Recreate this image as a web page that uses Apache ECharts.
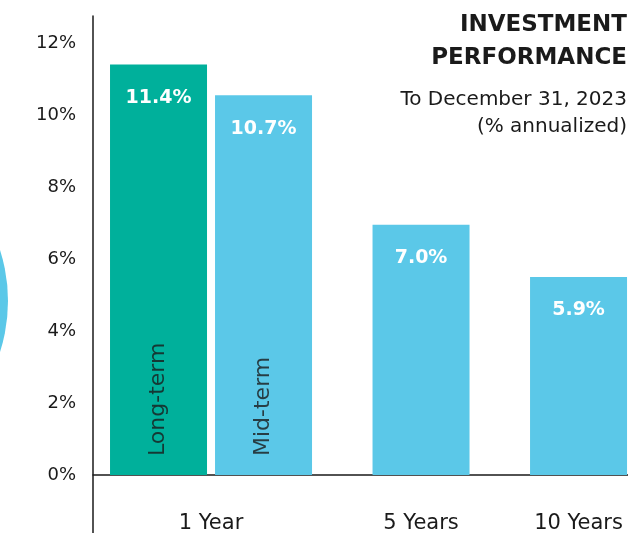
<!DOCTYPE html>
<html>
<head>
<meta charset="utf-8">
<script src="https://cdn.jsdelivr.net/npm/echarts@6/dist/echarts.min.js"></script>
<style>
  html, body { margin: 0; padding: 0; background: #fff; }
  #chart { width: 628px; height: 533px; }
</style>
</head>
<body>
<div id="chart"></div>
<script>
// periods shown on the x axis and their slot on the axis
var periods = ['1 Year', '5 Years', '10 Years'];
var periodSlots = [1, 5, 8];

// bars: slot, height, printed value, term name
var barSlots = [0, 2, 5, 8];
var barValues = [11.4, 10.55, 6.95, 5.5];
var barLabels = ['11.4%', '10.7%', '7.0%', '5.9%'];
var termNames = ['Long-term', 'Mid-term'];

var GREEN = '#00B09B';
var BLUE = '#5BC8E8';
var INK = '#1a1a1a';
var FONT = 'DejaVu Sans';

var chart = echarts.init(document.getElementById('chart'), null, {renderer: 'canvas'});

var barData = barSlots.map(function (s, i) {
  return {
    value: [s, barValues[i]],
    itemStyle: {color: i === 0 ? GREEN : BLUE}
  };
});

var termData = termNames.map(function (n, i) {
  return [barSlots[i], 0];
});

var option = {
  animation: false,
  graphic: [{
    type: 'circle',
    shape: {cx: -158, cy: 301, r: 166},
    style: {fill: BLUE},
    silent: true
  }, {
    // title
    type: 'text',
    right: 1,
    top: 9,
    style: {
      text: 'INVESTMENT\nPERFORMANCE',
      textAlign: 'right',
      fill: INK,
      font: 'bold 23px "DejaVu Sans"',
      lineHeight: 33
    },
    silent: true
  }, {
    type: 'text',
    right: 1,
    top: 86,
    style: {
      text: 'To December 31, 2023\n(% annualized)',
      textAlign: 'right',
      fill: INK,
      font: '20px "DejaVu Sans"',
      lineHeight: 27
    },
    silent: true
  }],
  // the y axis runs a little past 0 and 12%, as in the original
  grid: {left: 93, right: 0, top: 16, bottom: -14, containLabel: false, outerBoundsMode: 'none'},
  xAxis: {
    type: 'value',
    min: -1.248,
    max: 8.942,
    offset: -72,
    splitLine: {show: false},
    axisTick: {show: false},
    axisLine: {show: true, onZero: false, lineStyle: {color: INK, width: 1.5}},
    axisLabel: {
      customValues: periodSlots,
      margin: 38,
      fontFamily: FONT,
      fontSize: 21,
      color: INK,
      formatter: function (v) {
        var i = periodSlots.indexOf(v);
        return i >= 0 ? periods[i] : '';
      }
    }
  },
  yAxis: {
    type: 'value',
    min: -2,
    max: 12.75,
    interval: 2,
    splitLine: {show: false},
    axisTick: {show: false},
    axisLine: {show: true, onZero: false, lineStyle: {color: INK, width: 1.5}},
    axisLabel: {
      margin: 17,
      fontFamily: FONT,
      fontSize: 18,
      color: INK,
      formatter: function (v) {
        return (v >= 0 && v % 2 === 0) ? v + '%' : '';
      }
    }
  },
  series: [{
    type: 'bar',
    barWidth: 97,
    data: barData,
    label: {
      show: true,
      position: 'insideTop',
      distance: 24,
      fontFamily: FONT,
      fontWeight: 'bold',
      fontSize: 19,
      color: '#fff',
      formatter: function (p) { return barLabels[p.dataIndex]; }
    },
    silent: true
  }, {
    type: 'scatter',
    symbolSize: 0,
    data: termData,
    label: {
      show: true,
      position: 'top',
      distance: 19,
      rotate: 90,
      align: 'left',
      verticalAlign: 'middle',
      fontFamily: FONT,
      fontSize: 22,
      color: INK,
      formatter: function (p) { return termNames[p.dataIndex]; }
    },
    silent: true
  }]
};

chart.setOption(option);
</script>
</body>
</html>
